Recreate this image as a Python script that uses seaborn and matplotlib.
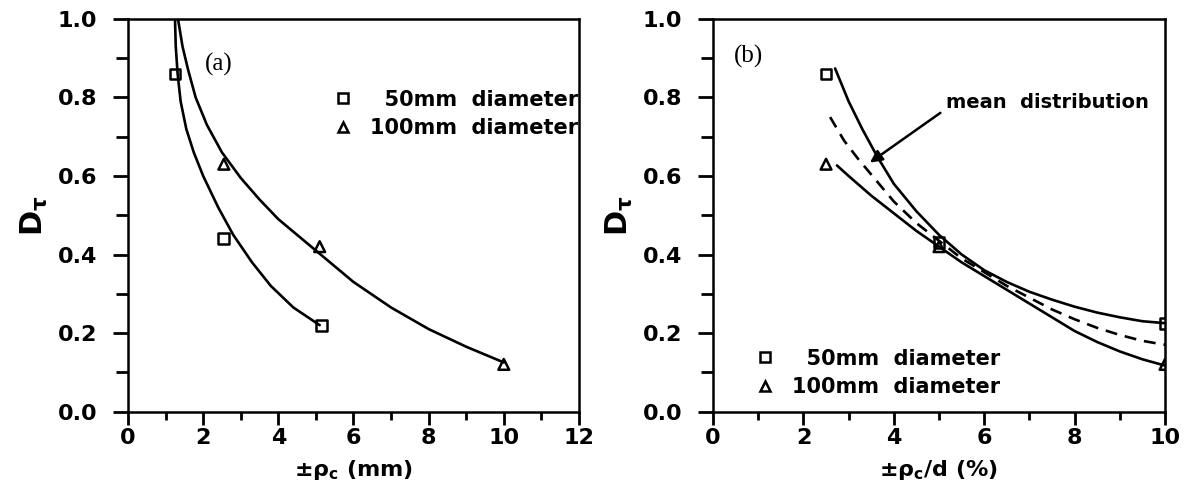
import matplotlib
matplotlib.use("Agg")
import matplotlib.pyplot as plt
from matplotlib.lines import Line2D
from matplotlib.ticker import MultipleLocator
import seaborn as sns
import pandas as pd

# ---- (a) damage index vs. absolute contact radius -------------------------
a_pts_50_x = [1.25, 2.55, 5.15]
a_pts_50_y = [0.86, 0.44, 0.22]
a_pts_100_x = [2.55, 5.1, 10.0]
a_pts_100_y = [0.63, 0.42, 0.12]

a_fit_50_x = [1.25, 1.27, 1.32, 1.4, 1.55, 1.75, 2.0, 2.4, 2.8, 3.3, 3.8, 4.4, 5.1]
a_fit_50_y = [1.0, 0.93, 0.86, 0.79, 0.72, 0.66, 0.60, 0.52, 0.45, 0.38, 0.32, 0.265, 0.22]
a_fit_100_x = [1.33, 1.45, 1.6, 1.8, 2.1, 2.5, 3.0, 3.5, 4.0, 4.5, 5.0, 6.0, 7.0, 8.0, 9.0, 10.0]
a_fit_100_y = [1.0, 0.93, 0.87, 0.80, 0.73, 0.66, 0.595, 0.54, 0.49, 0.45, 0.41, 0.33,
               0.265, 0.21, 0.165, 0.125]

# ---- (b) damage index vs. contact radius relative to diameter -------------
b_pts_50_x = [2.5, 5.0, 10.0]
b_pts_50_y = [0.86, 0.43, 0.225]
b_pts_100_x = [2.5, 5.0, 10.0]
b_pts_100_y = [0.63, 0.42, 0.12]

b_fit_50_x = [2.7, 3.0, 3.3, 3.63, 4.0, 4.5, 5.0, 5.5, 6.0, 6.5, 7.0, 7.5, 8.0, 8.5, 9.0, 9.5, 10.0]
b_fit_50_y = [0.874, 0.79, 0.72, 0.65, 0.58, 0.51, 0.45, 0.40, 0.36, 0.33, 0.305, 0.285,
              0.267, 0.252, 0.24, 0.23, 0.225]
b_fit_100_x = [2.74, 3.0, 3.5, 4.0, 4.5, 5.0, 5.5, 6.0, 6.5, 7.0, 7.5, 8.0, 8.5, 9.0, 9.5, 10.0]
b_fit_100_y = [0.627, 0.60, 0.55, 0.505, 0.46, 0.42, 0.38, 0.345, 0.31, 0.275, 0.24, 0.205,
               0.177, 0.153, 0.133, 0.117]
b_mean_x = [2.59, 2.9, 3.2, 3.6, 4.0, 4.5, 5.0, 5.5, 6.0, 6.5, 7.0, 7.5, 8.0, 8.5, 9.0, 9.5, 10.0]
b_mean_y = [0.75, 0.69, 0.645, 0.59, 0.535, 0.48, 0.435, 0.39, 0.355, 0.32, 0.29, 0.26,
            0.235, 0.213, 0.195, 0.18, 0.17]

labels = ["\u200750mm  diameter", "100mm  diameter"]

sns.set_theme(style="ticks")
plt.rcParams["font.family"] = ["DejaVu Sans"]
plt.rcParams["mathtext.fontset"] = "dejavusans"
for key in ("text.color", "axes.labelcolor", "xtick.color", "ytick.color", "axes.edgecolor"):
    plt.rcParams[key] = "black"

fig = plt.figure(figsize=(11.91, 4.92), dpi=100)
ax1 = fig.add_axes([0.1075, 0.1636, 0.3786, 0.7978])
ax2 = fig.add_axes([0.5987, 0.1636, 0.3795, 0.7978])

line_kw = dict(color="black", linewidth=1.9, estimator=None, sort=False, legend=False)
mk_kw = dict(s=60, facecolor="none", edgecolor="black", linewidth=1.8, legend=False, zorder=5)


def draw_fit(ax, x, y, **extra):
    df = pd.DataFrame({"x": x, "y": y})
    kw = dict(line_kw)
    kw.update(extra)
    sns.lineplot(data=df, x="x", y="y", ax=ax, **kw)


def draw_pts(ax, x, y, marker):
    df = pd.DataFrame({"x": x, "y": y})
    sns.scatterplot(data=df, x="x", y="y", ax=ax, marker=marker, **mk_kw)


draw_fit(ax1, a_fit_50_x, a_fit_50_y)
draw_fit(ax1, a_fit_100_x, a_fit_100_y)
draw_pts(ax1, a_pts_50_x, a_pts_50_y, "s")
draw_pts(ax1, a_pts_100_x, a_pts_100_y, "^")

draw_fit(ax2, b_fit_50_x, b_fit_50_y)
draw_fit(ax2, b_fit_100_x, b_fit_100_y)
draw_fit(ax2, b_mean_x, b_mean_y, linestyle=(0, (4.5, 3)))
draw_pts(ax2, b_pts_50_x, b_pts_50_y, "s")
draw_pts(ax2, b_pts_100_x, b_pts_100_y, "^")

tick_font = dict(fontsize=16, fontweight="bold")

for ax, xmax in ((ax1, 12), (ax2, 10)):
    ax.set_xlim(0, xmax)
    ax.set_ylim(0, 1.0)
    ax.xaxis.set_major_locator(MultipleLocator(2))
    ax.xaxis.set_minor_locator(MultipleLocator(1))
    ax.yaxis.set_major_locator(MultipleLocator(0.2))
    ax.yaxis.set_minor_locator(MultipleLocator(0.1))
    ax.tick_params(axis="both", which="major", direction="out", width=2, color="black")
    ax.tick_params(axis="x", which="major", length=9, pad=3)
    ax.tick_params(axis="x", which="minor", length=6, width=2, direction="out", color="black")
    ax.tick_params(axis="y", which="major", length=11, pad=11)
    ax.tick_params(axis="y", which="minor", length=9, width=2, direction="out", color="black")
    ax.set_yticks([0, 0.2, 0.4, 0.6, 0.8, 1.0])
    ax.set_yticklabels(["0.0", "0.2", "0.4", "0.6", "0.8", "1.0"], **tick_font)
    ax.set_xticks(range(0, xmax + 1, 2))
    ax.set_xticklabels([str(v) for v in range(0, xmax + 1, 2)], **tick_font)
    for sp in ax.spines.values():
        sp.set_visible(True)
        sp.set_linewidth(1.8)
        sp.set_color("black")
    ax.set_facecolor("white")
    ax.set_ylabel(r"$\mathbf{D_{\tau}}$", fontsize=22, labelpad=6)

ax1.set_xlabel(r"$\mathbf{\pm\rho_c}$ (mm)", fontsize=16, fontweight="bold", labelpad=7)
ax2.set_xlabel(r"$\mathbf{\pm\rho_c/d}$ (%)", fontsize=16, fontweight="bold", labelpad=7)

ax1.text(0.17, 0.885, "(a)", transform=ax1.transAxes, fontsize=18,
         family="Liberation Serif", ha="left", va="center")
ax2.text(0.045, 0.905, "(b)", transform=ax2.transAxes, fontsize=18,
         family="Liberation Serif", ha="left", va="center")

ax2.annotate("", xy=(3.42, 0.63), xytext=(5.08, 0.765),
             arrowprops=dict(arrowstyle="-|>", lw=1.8, color="black", mutation_scale=18))
ax2.text(5.15, 0.787, "mean  distribution", fontsize=14, fontweight="bold",
         ha="left", va="center")

handles = [
    Line2D([], [], linestyle="none", marker="s", markersize=7, markerfacecolor="none",
           markeredgecolor="black", markeredgewidth=1.8),
    Line2D([], [], linestyle="none", marker="^", markersize=7, markerfacecolor="none",
           markeredgecolor="black", markeredgewidth=1.8),
]
leg_kw = dict(frameon=False, handlelength=0.6, handletextpad=1.0, labelspacing=0.4,
              borderpad=0, borderaxespad=0, prop=dict(size=15, weight="bold"))
leg1 = ax1.legend(handles, labels, loc="upper left", bbox_to_anchor=(0.462, 0.82), **leg_kw)
for t in leg1.get_texts():
    t.set_clip_on(True)
    t.set_clip_box(ax1.bbox)
leg2 = ax2.legend(handles, labels, loc="upper left", bbox_to_anchor=(0.1, 0.16), **leg_kw)

fig.savefig("out.png", dpi=100, facecolor="white")
